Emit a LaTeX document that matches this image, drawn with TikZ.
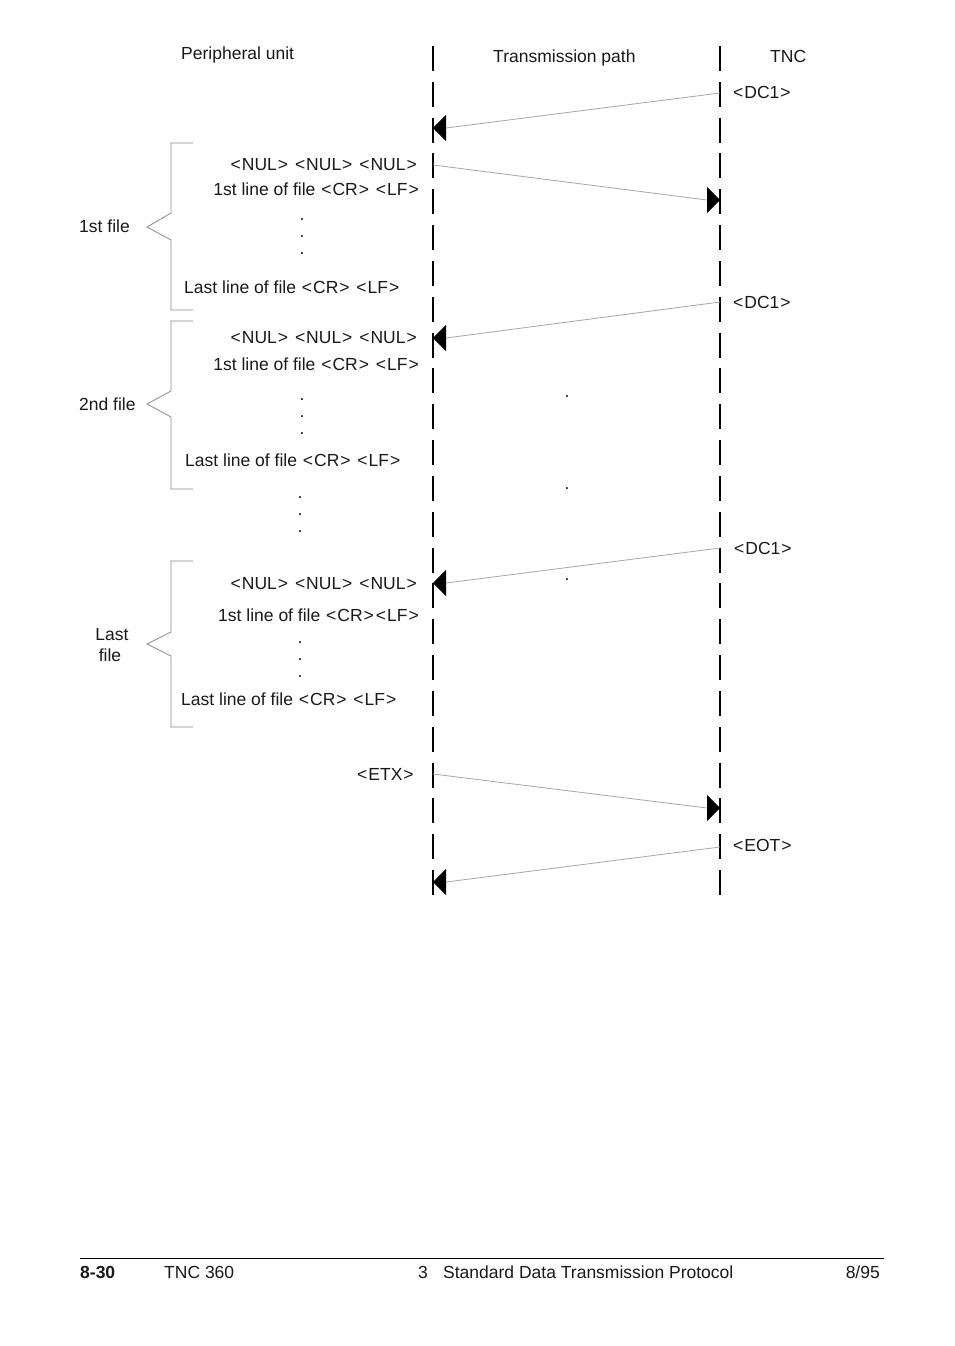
\documentclass[tikz,border=0pt]{standalone}
\usepackage{fontspec}
\setmainfont{Liberation Sans}
\usetikzlibrary{arrows.meta}
\newcommand\ang[1]{\kern1bp\relax<\kern1bp\relax#1\kern1bp\relax>\kern1bp\relax}
\begin{document}
\begin{tikzpicture}[x=1bp,y=-1bp,
  txt/.style={inner sep=0pt,font=\fontsize{17.5bp}{20bp}\selectfont,text=black!90},
  lifeline/.style={line width=2.5bp,dash pattern=on 25bp off 10.83bp},
  msg/.style={draw=black!35,line width=0.8bp,-{Triangle[length=13bp,width=26bp,black]}},
  bracebox/.style={draw=black!45,line width=0.8bp}]
\useasboundingbox (0,0) rectangle (954,1346);
\fill[white] (0,0) rectangle (954,1346);

% headers
\node[txt,anchor=base west] (hpu) at (181,60) {Peripheral unit};
\node[txt,anchor=base west] (htp) at (493,63) {Transmission path};
\node[txt,anchor=base west] (htnc) at (770,63) {TNC};

% lifelines
\coordinate (Ltop) at (433,46);
\coordinate (Lbot) at (433,895);
\coordinate (Rtop) at (720,46);
\coordinate (Rbot) at (720,895);
\draw[lifeline] (Ltop) -- (Lbot);
\draw[lifeline] (Rtop) -- (Rbot);

% message end points
\coordinate (m1a) at (720,93);  \coordinate (m1b) at (433,128);
\coordinate (m2a) at (433,165); \coordinate (m2b) at (720,200);
\coordinate (m3a) at (720,302); \coordinate (m3b) at (433,338);
\coordinate (m4a) at (720,548); \coordinate (m4b) at (433,583);
\coordinate (m5a) at (433,774); \coordinate (m5b) at (720,808);
\coordinate (m6a) at (720,847); \coordinate (m6b) at (433,882);
\draw[msg] (m1a) -- ([xshift=13bp]m1b) -- (m1b);
\draw[msg] (m2a) -- ([xshift=-13bp]m2b) -- (m2b);
\draw[msg] (m3a) -- ([xshift=13bp]m3b) -- (m3b);
\draw[msg] (m4a) -- ([xshift=13bp]m4b) -- (m4b);
\draw[msg] (m5a) -- ([xshift=-13bp]m5b) -- (m5b);
\draw[msg] (m6a) -- ([xshift=13bp]m6b) -- (m6b);

% TNC side labels
\node[txt,anchor=base west] (dc1a) at (732,99) {\ang{DC1}};
\node[txt,anchor=base west] (dc1b) at (732,308) {\ang{DC1}};
\node[txt,anchor=base west] (dc1c) at (733,554) {\ang{DC1}};
\node[txt,anchor=base west] (eot) at (732,851) {\ang{EOT}};

% 1st file
\node[txt,anchor=base east] (n1) at (418,171) {\ang{NUL} \ang{NUL} \ang{NUL}};
\node[txt,anchor=base east] (f1) at (420,196) {1st line of file \ang{CR} \ang{LF}};
\node[txt,anchor=base] (d1a) at (302,221) {.};
\node[txt,anchor=base] (d1b) at (302,238) {.};
\node[txt,anchor=base] (d1c) at (302,255) {.};
\node[txt,anchor=base west] (l1) at (184,293) {Last line of file \ang{CR} \ang{LF}};
\node[txt,anchor=base west] (b1t) at (79,233) {1st file};
\draw[bracebox] (193,143) -- (171,143) -- (171,213) -- (147,227) -- (171,240) -- (171,310) -- (193,310);

% 2nd file
\node[txt,anchor=base east] (n2) at (418,343) {\ang{NUL} \ang{NUL} \ang{NUL}};
\node[txt,anchor=base east] (f2) at (420,370) {1st line of file \ang{CR} \ang{LF}};
\node[txt,anchor=base] (d2a) at (302,400) {.};
\node[txt,anchor=base] (d2b) at (302,417) {.};
\node[txt,anchor=base] (d2c) at (302,434) {.};
\node[txt,anchor=base west] (l2) at (185,466) {Last line of file \ang{CR} \ang{LF}};
\node[txt,anchor=base west] (b2t) at (79,410) {2nd file};
\draw[bracebox] (193,321) -- (171,321) -- (171,391) -- (147,404) -- (171,417) -- (171,489) -- (193,489);

% dots between files
\node[txt,anchor=base] (d3a) at (300,498) {.};
\node[txt,anchor=base] (d3b) at (300,515) {.};
\node[txt,anchor=base] (d3c) at (300,532) {.};

% dots on transmission path
\node[txt,anchor=base] (dma) at (567,397) {.};
\node[txt,anchor=base] (dmb) at (567,489) {.};
\node[txt,anchor=base] (dmc) at (567,580) {.};

% last file
\node[txt,anchor=base east] (n3) at (418,589) {\ang{NUL} \ang{NUL} \ang{NUL}};
\node[txt,anchor=base east] (f3) at (420,621) {1st line of file \ang{CR}\ang{LF}};
\node[txt,anchor=base] (d4a) at (300,643) {.};
\node[txt,anchor=base] (d4b) at (300,660) {.};
\node[txt,anchor=base] (d4c) at (300,677) {.};
\node[txt,anchor=base west] (l3) at (181,705) {Last line of file \ang{CR} \ang{LF}};
\node[txt,anchor=base] (b3t1) at (112,640) {Last};
\node[txt,anchor=base] (b3t2) at (110,661) {file};
\draw[bracebox] (193,561) -- (171,561) -- (171,632) -- (147,644) -- (171,656) -- (171,727) -- (193,727);

% ETX
\node[txt,anchor=base west] (etx) at (356,780) {\ang{ETX}};

% footer
\coordinate (fl) at (80,1258);
\coordinate (fr) at (884,1258);
\draw[line width=0.9bp] (fl) -- (fr);
\node[txt,anchor=base west,font=\fontsize{17.5bp}{20bp}\selectfont\bfseries] (pg) at (80,1278) {8-30};
\node[txt,anchor=base west] (tnc) at (164,1278) {TNC 360};
\node[txt,anchor=base west] (ch) at (418,1278) {3};
\node[txt,anchor=base west] (cht) at (443,1278) {Standard Data Transmission Protocol};
\node[txt,anchor=base east] (dt) at (880,1278) {8/95};
\end{tikzpicture}
\end{document}
